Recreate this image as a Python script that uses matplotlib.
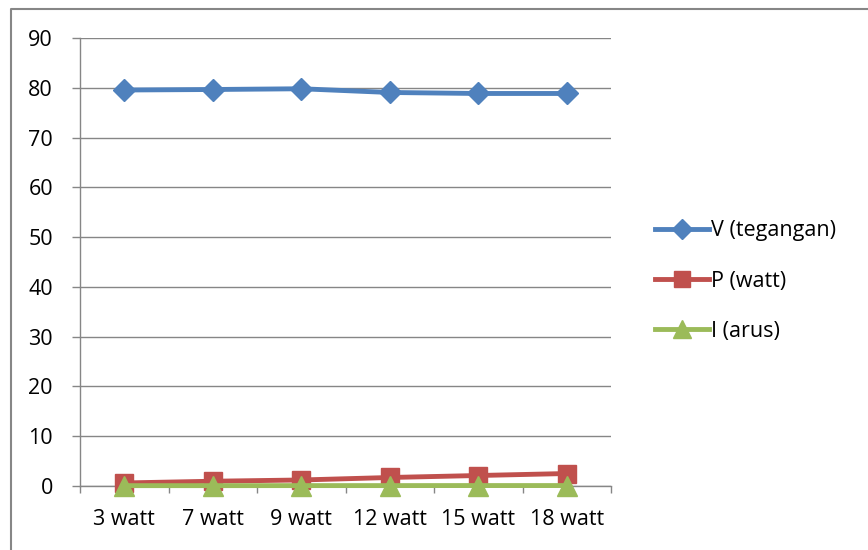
import numpy as np
from matplotlib import pyplot as plt
from matplotlib.lines import Line2D

kategori = ['3 watt', '7 watt', '9 watt', '12 watt', '15 watt', '18 watt']
tegangan = [79.6, 79.7, 79.85, 79.1, 78.9, 78.9]
daya = [0.55, 0.9, 1.15, 1.65, 2.05, 2.45]
arus = [0.01, 0.01, 0.02, 0.02, 0.03, 0.03]
yticks = [0, 10, 20, 30, 40, 50, 60, 70, 80, 90]

plt.rcParams['font.family'] = ['Open Sans', 'DejaVu Sans']

W, H = 868, 550
fig = plt.figure(figsize=(W / 100, H / 100), dpi=100)
ax = fig.add_axes([80 / W, 1 - 485.7 / H, 531 / W, (485.7 - 38.3) / H])

x = np.arange(len(kategori))
ax.plot(x, tegangan, color='#4F81BD', lw=3.5, marker='D', ms=11.5, label='V (tegangan)', zorder=3,
        clip_on=False)
ax.plot(x, daya, color='#C0504D', lw=3.5, marker='s', ms=13, label='P (watt)', zorder=4, clip_on=False)
ax.plot(x, arus, color='#9BBB59', lw=3.5, marker='^', ms=15, label='I (arus)', zorder=5, clip_on=False)

ax.set_xlim(-0.5, len(kategori) - 0.5)
ax.set_ylim(0, 90)
ax.set_yticks(yticks)
ax.yaxis.grid(True, color='#868686', lw=1)
ax.set_axisbelow(True)
ax.set_xticks(x)
ax.set_xticklabels(kategori)
ax.set_xticks(np.arange(len(kategori) + 1) - 0.5, minor=True)
ax.tick_params(axis='x', which='major', length=0, pad=17, labelsize=15.5)
ax.tick_params(axis='x', which='minor', length=5, color='#868686', width=1)
ax.tick_params(axis='y', length=6, color='#868686', width=1, pad=13.5, labelsize=15.5)
for s in ['top', 'right']:
    ax.spines[s].set_visible(False)
for s in ['left', 'bottom']:
    ax.spines[s].set_color('#868686')
    ax.spines[s].set_linewidth(1)
ax.spines['bottom'].set_zorder(0.5)

ax.legend(loc='center left', bbox_to_anchor=(636 / W, 1 - 281 / H), bbox_transform=fig.transFigure,
          frameon=False, fontsize=15.5, handlelength=2.5, handletextpad=0.1, labelspacing=1.35,
          markerscale=0.85)

# garis bingkai kiri dan atas
fig.add_artist(Line2D([11 / W, 11 / W, 1], [0, 1 - 8.5 / H, 1 - 8.5 / H],
                      transform=fig.transFigure, color='#868686', lw=1.5))

fig.savefig('out.png', dpi=100)
